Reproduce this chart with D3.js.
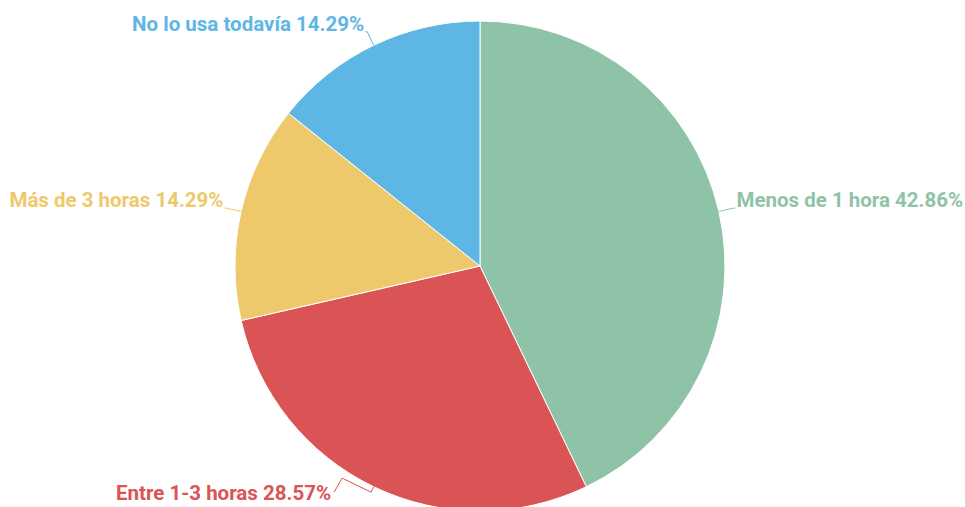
<!DOCTYPE html>
<html>
<head>
<meta charset="utf-8">
<script src="https://cdn.jsdelivr.net/npm/d3@7"></script>
<style>
  html, body { margin: 0; padding: 0; background: #fff; }
  svg { display: block; }
  text { font-family: Roboto, "Noto Sans", sans-serif; font-weight: 700; }
</style>
</head>
<body>
<svg id="chart" width="965" height="507"></svg>
<script>
const categories = ["Menos de 1 hora", "Entre 1-3 horas", "Más de 3 horas", "No lo usa todavía"];
const values = [3, 2, 1, 1];
const percentLabels = ["42.86%", "28.57%", "14.29%", "14.29%"];
const colors = ["#8fc3a8", "#da5355", "#eec96b", "#5eb6e4"];

const W = 965, H = 507;
const cx = 480, cy = 266, R = 245;
const svg = d3.select("#chart");
const g = svg.append("g").attr("transform", `translate(${cx},${cy})`);

const data = categories.map((c, i) => ({ name: c, value: values[i], pct: percentLabels[i], color: colors[i] }));
const pie = d3.pie().sort(null).value(d => d.value);
const arcs = pie(data);
const arc = d3.arc().innerRadius(0).outerRadius(R);

g.selectAll("path.slice").data(arcs).enter().append("path")
  .attr("class", "slice")
  .attr("d", arc)
  .attr("fill", d => d.data.color)
  .attr("stroke", "#fff")
  .attr("stroke-width", 1);

const fontSize = 20.5;
function pt(a, r) { return [Math.sin(a) * r, -Math.cos(a) * r]; }

arcs.forEach((d, i) => {
  const mid = (d.startAngle + d.endAngle) / 2;
  const right = Math.sin(mid) > 0;
  const p0 = pt(mid, R);
  let p1 = pt(mid, R + 15);
  let pts;
  let tx, ty;
  const overflowBottom = cy + p1[1] > H - 10;
  if (!overflowBottom) {
    const p2 = [p1[0] + (right ? 2 : -2), p1[1]];
    pts = [p0, p1, p2];
    tx = p2[0] + (right ? 1 : -1);
    ty = p1[1] - 1;
  } else {
    // label pushed left to stay inside the view
    const q1 = pt(mid, R + 6);
    tx = q1[0] - 40;
    ty = q1[1] + 8;
    pts = [p0, q1, [tx + 11, ty - 22], [tx + 3, ty - 8]];
  }
  g.append("polyline")
    .attr("points", pts.map(p => p.join(",")).join(" "))
    .attr("fill", "none")
    .attr("stroke", d.data.color)
    .attr("stroke-width", 1);
  g.append("text")
    .attr("x", tx)
    .attr("y", ty)
    .attr("text-anchor", right ? "start" : "end")
    .attr("fill", d.data.color)
    .attr("font-size", fontSize)
    .text(d.data.name + " " + d.data.pct);
});
</script>
</body>
</html>
